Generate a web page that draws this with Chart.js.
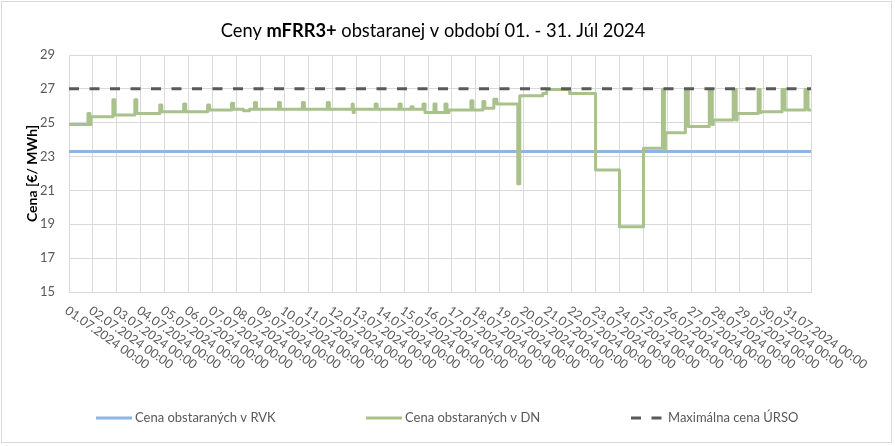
<!DOCTYPE html>
<html>
<head>
<meta charset="utf-8">
<script src="https://cdn.jsdelivr.net/npm/chart.js@4.4.1/dist/chart.umd.min.js"></script>
<style>
  html, body { margin: 0; padding: 0; background: #fff; }
  #wrap { position: relative; width: 895px; height: 446px; }
</style>
</head>
<body>
<div id="wrap"><canvas id="canvas" width="895" height="446"></canvas></div>
<script>
// x axis tick labels (one per day) and their position in hours
var dayLabels = [
  '01.07.2024 00:00', '02.07.2024 00:00', '03.07.2024 00:00', '04.07.2024 00:00',
  '05.07.2024 00:00', '06.07.2024 00:00', '07.07.2024 00:00', '08.07.2024 00:00',
  '09.07.2024 00:00', '10.07.2024 00:00', '11.07.2024 00:00', '12.07.2024 00:00',
  '13.07.2024 00:00', '14.07.2024 00:00', '15.07.2024 00:00', '16.07.2024 00:00',
  '17.07.2024 00:00', '18.07.2024 00:00', '19.07.2024 00:00', '20.07.2024 00:00',
  '21.07.2024 00:00', '22.07.2024 00:00', '23.07.2024 00:00', '24.07.2024 00:00',
  '25.07.2024 00:00', '26.07.2024 00:00', '27.07.2024 00:00', '28.07.2024 00:00',
  '29.07.2024 00:00', '30.07.2024 00:00', '31.07.2024 00:00'
];
var tickHours = [0, 24, 48, 72, 96, 120, 144, 168, 192, 216, 240, 264, 288, 312, 336, 360,
  384, 408, 432, 456, 480, 504, 528, 552, 576, 600, 624, 648, 672, 696, 720, 744];

// Cena obstaraných v RVK (flat)
var rvkHours = [0, 744];
var rvkPrice = [23.3, 23.3];

// Maximálna cena ÚRSO (flat)
var ursoHours = [0, 744];
var ursoPrice = [27, 27];

// Cena obstaraných v DN - hour where the price changes, and the new price
var dnHours = [
  0, 19, 21, 22,
  44, 46,
  66, 68,
  91, 93,
  115, 117,
  139, 141,
  163, 165,
  175, 181, 186, 188,
  210, 212,
  234, 236,
  259, 261,
  284, 285, 286,
  307, 309,
  331, 333,
  343, 345, 355, 357,
  366, 368, 377, 379, 381,
  403, 405,
  415, 417, 426, 429,
  450, 452,
  475, 479,
  502,
  528,
  552,
  576, 595, 597, 598,
  618, 621,
  642, 645, 646,
  666, 669, 670,
  691, 693, 694,
  715, 718,
  738, 741, 744
];
var dnPrice = [
  24.9, 25.55, 24.9, 25.35,
  26.35, 25.45,
  26.35, 25.55,
  26.05, 25.65,
  26.1, 25.65,
  26.05, 25.75,
  26.15, 25.8,
  25.7, 25.8, 26.2, 25.8,
  26.2, 25.8,
  26.2, 25.8,
  26.2, 25.8,
  26.1, 25.6, 25.8,
  26.1, 25.8,
  26.1, 25.8,
  25.95, 25.8, 26.1, 25.6,
  26.1, 25.6, 26.1, 25.6, 25.75,
  26.3, 25.75,
  26.25, 25.85, 26.38, 26.1,
  21.4, 26.6,
  26.73, 26.96,
  26.73,
  22.2,
  18.86,
  23.49, 26.96, 23.4, 24.41,
  26.96, 24.77,
  26.96, 24.9, 25.16,
  26.96, 25.16, 25.55,
  26.96, 25.6, 25.65,
  26.96, 25.75,
  26.96, 25.75, 25.75
];

function pts(xs, ys) {
  return xs.map(function(x, i) { return { x: x, y: ys[i] }; });
}

var greyText = '#595959';
var fontFam = 'Lato, "Open Sans", sans-serif';

var decor = {
  id: 'decor',
  beforeDraw: function(chart) {
    var c = chart.ctx;
    c.save();
    c.strokeStyle = '#d9d9d9';
    c.lineWidth = 1;
    c.strokeRect(1.5, 1.5, 890, 441);
    c.restore();
  },
  afterDraw: function(chart) {
    var c = chart.ctx;

    // title with a bold part
    var parts = [['Ceny ', 'normal'], ['mFRR3+', 'bold'], [' obstaranej v období 01. - 31. Júl 2024', 'normal']];
    var size = 18, total = 0;
    parts.forEach(function(p) {
      c.font = p[1] + ' ' + size + 'px ' + fontFam;
      total += c.measureText(p[0]).width;
    });
    size = size * 425 / total;
    total = 0;
    parts.forEach(function(p) {
      c.font = p[1] + ' ' + size + 'px ' + fontFam;
      total += c.measureText(p[0]).width;
    });
    c.save();
    c.fillStyle = '#000';
    c.textBaseline = 'alphabetic';
    c.textAlign = 'left';
    var tx = 433 - total / 2;
    parts.forEach(function(p) {
      c.font = p[1] + ' ' + size + 'px ' + fontFam;
      c.fillText(p[0], tx, 37);
      tx += c.measureText(p[0]).width;
    });
    c.restore();

    // rotated day labels
    var xs = chart.scales.x;
    var bottom = chart.chartArea.bottom;
    c.save();
    c.fillStyle = greyText;
    c.font = '12.5px ' + fontFam;
    c.textAlign = 'left';
    c.textBaseline = 'top';
    dayLabels.forEach(function(lab, i) {
      var px = xs.getPixelForValue(tickHours[i]);
      c.save();
      c.translate(px + 1, bottom + 12);
      c.rotate(35 * Math.PI / 180);
      c.fillText(lab, 0, 0);
      c.restore();
    });
    c.restore();

    // legend
    var legX = [96, 366, 631];
    var legLen = [36, 36, 31];
    var ly = 418;
    c.save();
    c.font = '13px ' + fontFam;
    c.textBaseline = 'middle';
    c.textAlign = 'left';
    chart.data.datasets.forEach(function(ds, i) {
      c.beginPath();
      c.strokeStyle = ds.borderColor;
      c.lineWidth = ds.borderWidth;
      c.lineCap = 'butt';
      c.setLineDash(ds.borderDash || []);
      c.moveTo(legX[i], ly);
      c.lineTo(legX[i] + legLen[i], ly);
      c.stroke();
      c.setLineDash([]);
      c.fillStyle = greyText;
      c.fillText(ds.label, legX[i] + legLen[i] + (i === 2 ? 6 : 3), ly);
    });
    c.restore();
  }
};

var ctx = document.getElementById('canvas').getContext('2d');
var myChart = new Chart(ctx, {
  type: 'line',
  data: {
    datasets: [
      {
        label: 'Cena obstaraných v RVK',
        data: pts(rvkHours, rvkPrice),
        borderColor: '#8db4e2',
        borderWidth: 3,
        order: 3
      },
      {
        label: 'Cena obstaraných v DN',
        data: pts(dnHours, dnPrice),
        borderColor: '#a9c18a',
        borderWidth: 3,
        stepped: 'before',
        borderJoinStyle: 'round',
        order: 2
      },
      {
        label: 'Maximálna cena ÚRSO',
        data: pts(ursoHours, ursoPrice),
        borderColor: '#595959',
        borderWidth: 3,
        borderDash: [10, 10.5],
        order: 1
      }
    ]
  },
  options: {
    responsive: false,
    animation: false,
    devicePixelRatio: 1,
    layout: { padding: { left: 0, top: 55, right: 84, bottom: 154 } },
    elements: {
      point: { radius: 0, hoverRadius: 0 },
      line: { tension: 0 }
    },
    plugins: {
      legend: { display: false },
      title: { display: false },
      tooltip: { enabled: false }
    },
    scales: {
      x: {
        type: 'linear',
        min: 0,
        max: 744,
        afterBuildTicks: function(scale) {
          scale.ticks = tickHours.map(function(v) { return { value: v }; });
        },
        afterFit: function(scale) { scale.height = 0; },
        ticks: { display: false },
        grid: { color: '#d9d9d9', drawTicks: false },
        border: { color: '#d9d9d9' }
      },
      y: {
        min: 15,
        max: 29,
        afterFit: function(scale) { scale.width = 69; },
        ticks: {
          stepSize: 2,
          padding: 14,
          color: greyText,
          font: { family: fontFam, size: 13 }
        },
        grid: { color: '#d9d9d9', drawTicks: false },
        border: { color: '#d9d9d9' },
        title: {
          display: true,
          text: 'Cena [€/ MWh]',
          color: '#000',
          font: { family: fontFam, size: 14, weight: 'bold' },
          padding: { top: 24, bottom: 0 }
        }
      }
    }
  },
  plugins: [decor]
});
</script>
</body>
</html>
